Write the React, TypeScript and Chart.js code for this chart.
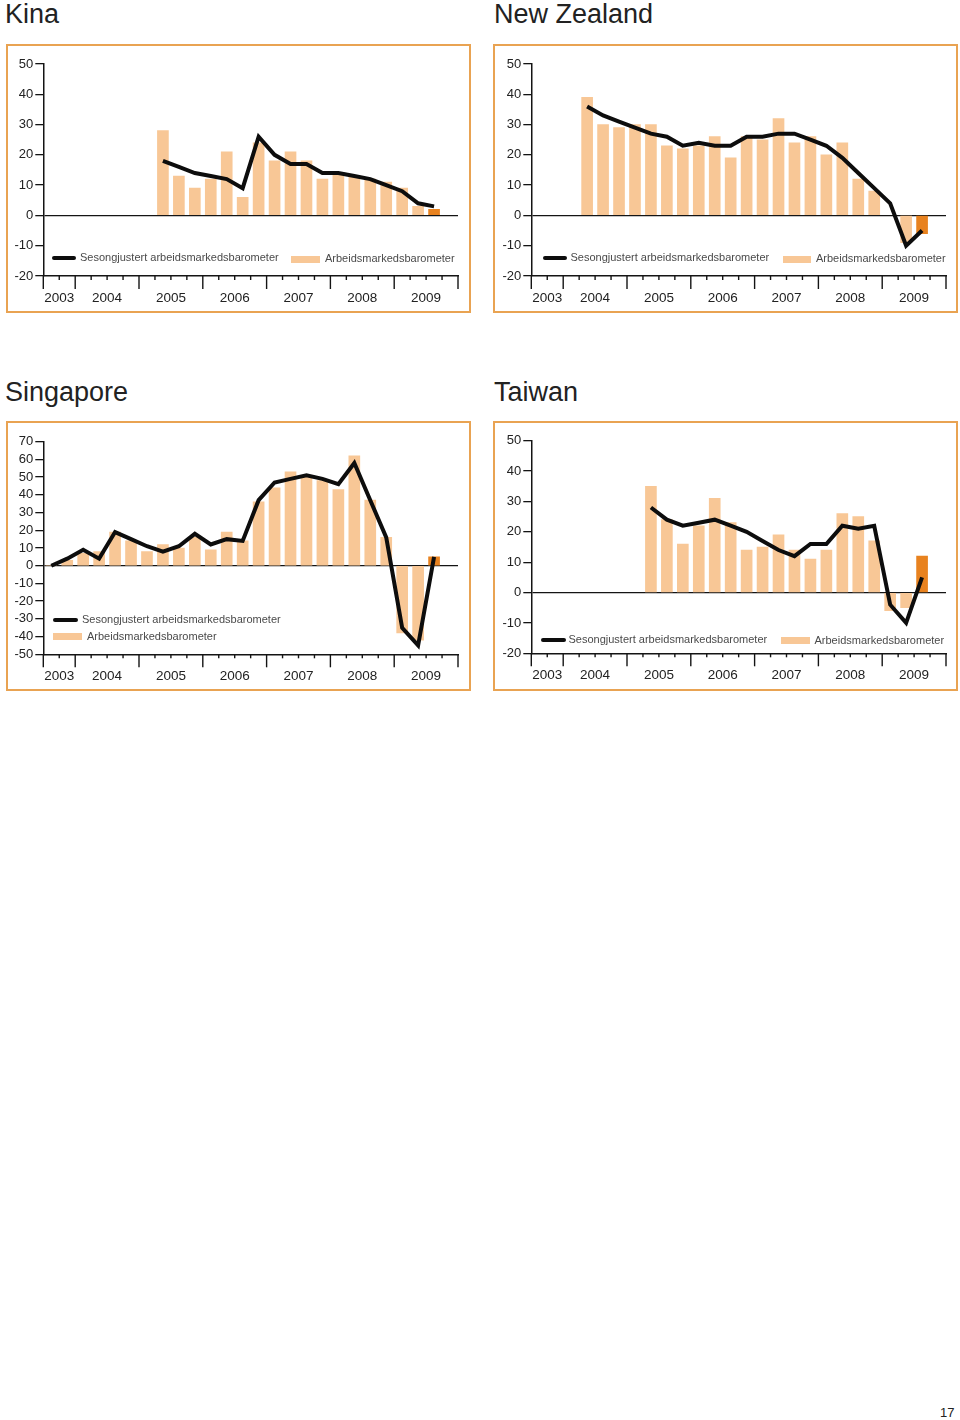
import React, { useEffect, useRef } from 'react';
import { Chart, registerables } from 'chart.js';

Chart.register(...registerables);

// ---------- categories ----------
const quarters: string[] = [
  '2003K3', '2003K4',
  '2004K1', '2004K2', '2004K3', '2004K4',
  '2005K1', '2005K2', '2005K3', '2005K4',
  '2006K1', '2006K2', '2006K3', '2006K4',
  '2007K1', '2007K2', '2007K3', '2007K4',
  '2008K1', '2008K2', '2008K3', '2008K4',
  '2009K1', '2009K2', '2009K3', '2009K4',
];
const highlightQuarter = '2009K3';

const legendLineLabel = 'Sesongjustert arbeidsmarkedsbarometer';
const legendBarLabel = 'Arbeidsmarkedsbarometer';

// ---------- series ----------
const kinaBars = [null, null, null, null, null, null, null, 28, 13, 9, 12, 21, 6, 24, 18, 21, 18, 12, 14, 13, 12, 11, 9, 3, 2, null];
const kinaLine = [null, null, null, null, null, null, null, 18, 16, 14, 13, 12, 9, 26, 20, 17, 17, 14, 14, 13, 12, 10, 8, 4, 3, null];

const nzBars = [null, null, null, 39, 30, 29, 30, 30, 23, 22, 23, 26, 19, 26, 25, 32, 24, 26, 20, 24, 12, 8, null, -9, -6, null];
const nzLine = [null, null, null, 36, 33, 31, 29, 27, 26, 23, 24, 23, 23, 26, 26, 27, 27, 25, 23, 19, 14, 9, 4, -10, -5, null];

const sgBars = [0, 3, 7, 8, 19, 14, 8, 12, 10, 16, 9, 19, 14, 36, 44, 53, 51, 48, 43, 62, 37, 16, -38, -42, 5, null];
const sgLine = [0, 4, 9, 4, 19, 15, 11, 8, 11, 18, 12, 15, 14, 37, 47, 49, 51, 49, 46, 58, 37, 16, -35, -45, 5, null];

const twBars = [null, null, null, null, null, null, null, 35, 24, 16, 22, 31, 23, 14, 15, 19, 14, 11, 14, 26, 25, 17, -6, -5, 12, null];
const twLine = [null, null, null, null, null, null, null, 28, 24, 22, 23, 24, 22, 20, 17, 14, 12, 16, 16, 22, 21, 22, -4, -10, 5, null];

// ---------- styles ----------
const FONT = "'Liberation Sans', Arial, Helvetica, sans-serif";
const LIGHT = '#f8c796';
const DARK = '#e8821f';
const LINE = '#0d0d0d';
const AXIS = '#141414';
const FRAME = '#e9a352';
const TEXT = '#222222';
const LEGEND_TEXT = '#4a4a4a';
const BORDER = 2;

// derived category info (years)
const yearList: string[] = [];
const yearFirst: Record<string, number> = {};
const yearLast: Record<string, number> = {};
quarters.forEach((q, i) => {
  const y = q.slice(0, 4);
  if (!(y in yearFirst)) { yearFirst[y] = i; yearList.push(y); }
  yearLast[y] = i;
});
const labelAt = new Map<number, string>();
const majorSet = new Set<number>([0, quarters.length]);
yearList.forEach((y) => {
  labelAt.set((yearFirst[y] + yearLast[y] + 1) / 2, y);
  majorSet.add(yearFirst[y]);
});

type Box = { x: number; y: number; w: number; h: number };
type Plot = { l: number; t: number; r: number; b: number };
type LegendPos = {
  line: { x1: number; x2: number; y: number };
  lineText: { x: number; y: number };
  swatch: { x: number; y: number; w: number; h: number };
  swatchText: { x: number; y: number };
};
type Panel = {
  title: string;
  titlePos: { x: number; y: number };
  box: Box;
  plot: Plot;
  yMin: number;
  yMax: number;
  bars: (number | null)[];
  line: (number | null)[];
  legend: LegendPos;
};

const panels: Panel[] = [
  {
    title: 'Kina',
    titlePos: { x: 5, y: 1 },
    box: { x: 6, y: 44, w: 465, h: 269 },
    plot: { l: 43.3, t: 64, r: 458, b: 276 },
    yMin: -20, yMax: 50,
    bars: kinaBars, line: kinaLine,
    legend: {
      line: { x1: 52, x2: 76, y: 258.3 },
      lineText: { x: 80, y: 258 },
      swatch: { x: 291, y: 256, w: 29, h: 7 },
      swatchText: { x: 325, y: 259 },
    },
  },
  {
    title: 'New Zealand',
    titlePos: { x: 494, y: 1 },
    box: { x: 493, y: 44, w: 465, h: 269 },
    plot: { l: 531.3, t: 64, r: 946, b: 276 },
    yMin: -20, yMax: 50,
    bars: nzBars, line: nzLine,
    legend: {
      line: { x1: 543, x2: 567, y: 258.3 },
      lineText: { x: 570.5, y: 258 },
      swatch: { x: 783, y: 256, w: 28, h: 7 },
      swatchText: { x: 816, y: 259 },
    },
  },
  {
    title: 'Singapore',
    titlePos: { x: 5, y: 379 },
    box: { x: 6, y: 421, w: 465, h: 270 },
    plot: { l: 43.3, t: 441.7, r: 458, b: 654.3 },
    yMin: -50, yMax: 70,
    bars: sgBars, line: sgLine,
    legend: {
      line: { x1: 53, x2: 78, y: 620 },
      lineText: { x: 82, y: 620 },
      swatch: { x: 53, y: 633, w: 29, h: 7 },
      swatchText: { x: 87, y: 636.5 },
    },
  },
  {
    title: 'Taiwan',
    titlePos: { x: 494, y: 379 },
    box: { x: 493, y: 421, w: 465, h: 270 },
    plot: { l: 531.3, t: 440.7, r: 946, b: 653.3 },
    yMin: -20, yMax: 50,
    bars: twBars, line: twLine,
    legend: {
      line: { x1: 541, x2: 566, y: 640 },
      lineText: { x: 568.5, y: 640 },
      swatch: { x: 781, y: 637, w: 29, h: 7 },
      swatchText: { x: 814.5, y: 640.5 },
    },
  },
];

const xTickPlugin = {
  id: 'quarterTicks',
  afterDraw(chart: any) {
    const x = chart.scales.x;
    const { ctx, chartArea } = chart;
    ctx.save();
    ctx.strokeStyle = AXIS;
    ctx.lineWidth = 1.4;
    for (let v = 0; v <= quarters.length; v++) {
      const px = x.getPixelForValue(v);
      const len = majorSet.has(v) ? 13 : 4;
      ctx.beginPath();
      ctx.moveTo(px, chartArea.bottom);
      ctx.lineTo(px, chartArea.bottom + len);
      ctx.stroke();
    }
    ctx.restore();
  },
};

function PanelChart({ panel }: { panel: Panel }) {
  const ref = useRef<HTMLCanvasElement>(null);
  const { box, plot } = panel;
  const cx = box.x + BORDER;
  const cy = box.y + BORDER;
  const cw = box.w - 2 * BORDER;
  const ch = box.h - 2 * BORDER;

  useEffect(() => {
    if (!ref.current) return;
    const yAxisW = 34;
    const padLeft = plot.l - cx - yAxisW;
    const padTop = plot.t - cy;
    const padRight = cx + cw - plot.r;
    const xAxisH = cy + ch - plot.b;
    const n = quarters.length;

    const chart = new Chart(ref.current, {
      type: 'bar',
      data: {
        datasets: [
          {
            type: 'line',
            label: legendLineLabel,
            data: panel.line.map((v, i) => ({ x: i + 0.5, y: v })),
            borderColor: LINE,
            borderWidth: 4,
            pointRadius: 0,
            tension: 0,
            spanGaps: false,
            order: 0,
          } as any,
          {
            type: 'bar',
            label: legendBarLabel,
            data: panel.bars.map((v, i) => ({ x: i + 0.5, y: v })),
            backgroundColor: panel.bars.map((_, i) => (quarters[i] === highlightQuarter ? DARK : LIGHT)),
            borderWidth: 0,
            barThickness: 11,
            order: 1,
          } as any,
        ],
      },
      options: {
        animation: false,
        responsive: false,
        maintainAspectRatio: false,
        layout: { padding: { left: padLeft, top: padTop, right: padRight, bottom: 0 } },
        plugins: { legend: { display: false }, tooltip: { enabled: false } },
        scales: {
          x: {
            type: 'linear',
            min: 0,
            max: n,
            offset: false,
            grid: { display: false, offset: false },
            border: { display: true, color: AXIS, width: 1.5 },
            afterBuildTicks: (s: any) => {
              s.ticks = Array.from({ length: n + 1 }, (_, v) => ({ value: v }));
            },
            afterFit: (s: any) => { s.height = xAxisH; },
            ticks: {
              autoSkip: false,
              maxRotation: 0,
              minRotation: 0,
              padding: 6,
              color: TEXT,
              font: { family: FONT, size: 13.5 },
              callback: (v: any) => labelAt.get(Number(v)) ?? '',
            },
          },
          y: {
            min: panel.yMin,
            max: panel.yMax,
            afterFit: (s: any) => { s.width = yAxisW; },
            ticks: {
              stepSize: 10,
              autoSkip: false,
              padding: 2,
              color: TEXT,
              font: { family: FONT, size: 13 },
            },
            grid: {
              drawTicks: true,
              tickLength: 8,
              tickColor: AXIS,
              tickWidth: 1.3,
              color: (c: any) => (c.tick && c.tick.value === 0 ? AXIS : 'rgba(0,0,0,0)'),
              lineWidth: 1.3,
            },
            border: { display: true, color: AXIS, width: 1.5 },
          },
        },
      } as any,
      plugins: [xTickPlugin],
    });
    return () => chart.destroy();
  }, [panel]);

  const lg = panel.legend;
  const textStyle = (x: number, y: number): React.CSSProperties => ({
    position: 'absolute',
    left: x,
    top: y - 6,
    fontSize: 11,
    lineHeight: '11px',
    color: LEGEND_TEXT,
    whiteSpace: 'nowrap',
    fontFamily: FONT,
  });

  return (
    <>
      <div
        style={{
          position: 'absolute',
          left: panel.titlePos.x,
          top: panel.titlePos.y,
          fontSize: 27,
          lineHeight: '27px',
          color: TEXT,
          fontFamily: FONT,
          whiteSpace: 'nowrap',
        }}
      >
        {panel.title}
      </div>
      <div
        style={{
          position: 'absolute',
          left: box.x,
          top: box.y,
          width: box.w,
          height: box.h,
          border: `${BORDER}px solid ${FRAME}`,
          boxSizing: 'border-box',
        }}
      >
        <canvas
          ref={ref}
          width={cw}
          height={ch}
          style={{ position: 'absolute', left: 0, top: 0, width: cw, height: ch }}
        />
      </div>
      <div
        style={{
          position: 'absolute',
          left: lg.line.x1,
          top: lg.line.y - 2,
          width: lg.line.x2 - lg.line.x1,
          height: 4,
          background: LINE,
          borderRadius: 2,
        }}
      />
      <div style={textStyle(lg.lineText.x, lg.lineText.y)}>{legendLineLabel}</div>
      <div
        style={{
          position: 'absolute',
          left: lg.swatch.x,
          top: lg.swatch.y,
          width: lg.swatch.w,
          height: lg.swatch.h,
          background: LIGHT,
        }}
      />
      <div style={textStyle(lg.swatchText.x, lg.swatchText.y)}>{legendBarLabel}</div>
    </>
  );
}

export default function App() {
  return (
    <div
      style={{
        position: 'absolute',
        left: 0,
        top: 0,
        width: 960,
        height: 1420,
        background: '#ffffff',
        fontFamily: FONT,
        overflow: 'hidden',
      }}
    >
      {panels.map((p) => (
        <PanelChart key={p.title} panel={p} />
      ))}
      <div
        style={{
          position: 'absolute',
          left: 940,
          top: 1406,
          fontSize: 13,
          lineHeight: '14px',
          color: TEXT,
          fontFamily: FONT,
        }}
      >
        17
      </div>
    </div>
  );
}
